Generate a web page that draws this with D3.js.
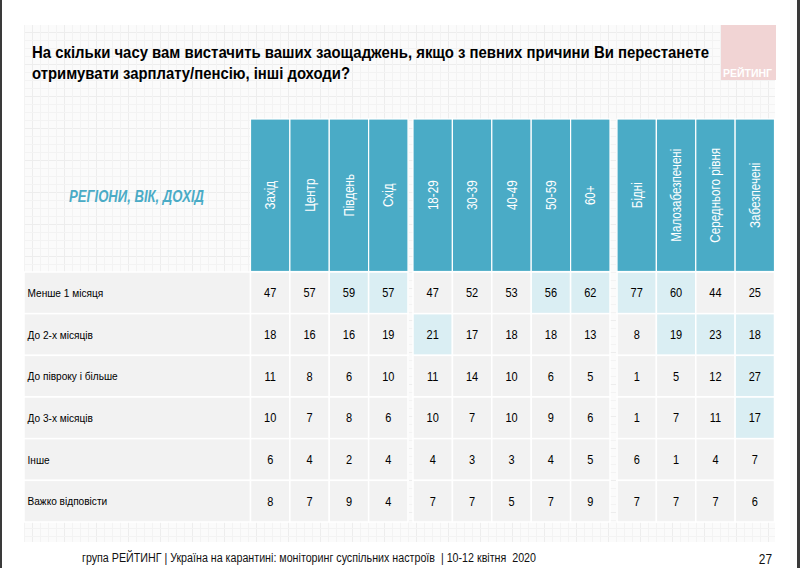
<!DOCTYPE html>
<html><head><meta charset="utf-8">
<script src="https://cdn.jsdelivr.net/npm/d3@7"></script>
<style>
html,body{margin:0;padding:0;background:#fff;}
svg{display:block;}
</style></head>
<body>
<svg id="chart" width="800" height="568"></svg>
<script>
// ---- data ----
const title = ["На скільки часу вам вистачить ваших заощаджень, якщо з певних причини Ви перестанете",
               "отримувати зарплату/пенсію, інші доходи?"];
const cornerLabel = "РЕГІОНИ, ВІК, ДОХІД";
const rowLabels = ["Менше 1 місяця","До 2-х місяців","До півроку і більше","До 3-х місяців","Інше","Важко відповісти"];
const regions = ["Захід","Центр","Південь","Схід"];
const ages = ["18-29","30-39","40-49","50-59","60+"];
const incomes = ["Бідні","Малозабезпечені","Середнього рівня","Забезпечені"];
// values per column, in rowLabels order
const valZakhid   = [47,18,11,10,6,8];
const valTsentr   = [57,16,8,7,4,7];
const valPivden   = [59,16,6,8,2,9];
const valSkhid    = [57,19,10,6,4,4];
const val1829     = [47,21,11,10,4,7];
const val3039     = [52,17,14,7,3,7];
const val4049     = [53,18,10,10,3,5];
const val5059     = [56,18,6,9,4,7];
const val60       = [62,13,5,6,5,9];
const valBidni    = [77,8,1,1,6,7];
const valMalo     = [60,19,5,7,1,7];
const valSeredn   = [44,23,12,11,4,7];
const valZabezp   = [25,18,27,17,7,6];
// highlighted cells: [row, column name]
const highlighted = [
  [0,"Південь"],[0,"Схід"],[0,"50-59"],[0,"60+"],[0,"Бідні"],[0,"Малозабезпечені"],
  [1,"18-29"],[1,"Малозабезпечені"],[1,"Середнього рівня"],[1,"Забезпечені"],
  [2,"Забезпечені"],[3,"Забезпечені"]
];
const footerText = "група РЕЙТИНГ | Україна на карантині: моніторинг суспільних настроїв  | 10-12 квітня  2020";
const pageNumber = "27";
const logoText = "РЕЙТИНГ";

const columnValues = {
  "Захід":valZakhid,"Центр":valTsentr,"Південь":valPivden,"Схід":valSkhid,
  "18-29":val1829,"30-39":val3039,"40-49":val4049,"50-59":val5059,"60+":val60,
  "Бідні":valBidni,"Малозабезпечені":valMalo,"Середнього рівня":valSeredn,"Забезпечені":valZabezp
};

// ---- drawing ----
const svg = d3.select("#chart");
const FONT = "'Liberation Sans',Arial,sans-serif";
const HEAD = "#4aabc6", CELL = "#f2f2f2", HI = "#daeef3";

// grid texture background
const defs = svg.append("defs");
const pat = defs.append("pattern").attr("id","grid").attr("patternUnits","userSpaceOnUse")
  .attr("width",32).attr("height",32);
pat.append("rect").attr("width",32).attr("height",32).attr("fill","#fbfbfb");
[0,8,16,24].forEach(p=>{
  pat.append("line").attr("x1",p+0.5).attr("x2",p+0.5).attr("y1",0).attr("y2",32)
    .attr("stroke", p===0?"#ededed":"#f3f3f3").attr("stroke-width",1);
  pat.append("line").attr("y1",p+0.5).attr("y2",p+0.5).attr("x1",0).attr("x2",32)
    .attr("stroke", p===0?"#ededed":"#f3f3f3").attr("stroke-width",1);
});
svg.append("rect").attr("x",24).attr("y",25).attr("width",751).attr("height",517).attr("fill","url(#grid)");

// page borders
svg.append("rect").attr("x",0).attr("y",0).attr("width",2).attr("height",568).attr("fill","#3a3a3a");
svg.append("rect").attr("x",797).attr("y",0).attr("width",3).attr("height",568).attr("fill","#3a3a3a");

// logo box
svg.append("rect").attr("x",721).attr("y",25).attr("width",55).attr("height",55).attr("fill","#f1d4d4");
svg.append("text").attr("x",723).attr("y",77)
  .attr("font-family",FONT).attr("font-weight","bold").attr("font-size",11.5)
  .attr("textLength",49).attr("lengthAdjust","spacingAndGlyphs")
  .attr("fill","#fff").text(logoText);

// title
svg.append("g").selectAll("text").data(title).join("text")
  .attr("x",32).attr("y",(d,i)=>58+i*21)
  .attr("font-family",FONT).attr("font-weight","bold").attr("font-size",16)
  .attr("textLength",(d,i)=>i===0?677:318).attr("lengthAdjust","spacingAndGlyphs")
  .attr("fill","#000").text(d=>d);

// scales
const groups = [
  {cols:regions, range:[250.5,408]},
  {cols:ages, range:[413,610]},
  {cols:incomes, range:[617,774.5]}
];
const xScales = groups.map(g=>d3.scaleBand().domain(g.cols).range(g.range).paddingInner(0));
const xOf = c => { for(const s of xScales){ if(s.domain().includes(c)) return s; } };
const allCols = groups.flatMap(g=>g.cols);
const y = d3.scaleBand().domain(rowLabels).range([272,522]);
const headerTop = 119, headerBottom = 271.5;

// corner label
svg.append("text").attr("x",69).attr("y",202)
  .attr("font-family",FONT).attr("font-weight","bold").attr("font-style","italic")
  .attr("font-size",16).attr("textLength",135).attr("lengthAdjust","spacingAndGlyphs")
  .attr("fill",HEAD).text(cornerLabel);

// header cells
const hdr = svg.append("g");
hdr.selectAll("rect").data(allCols).join("rect")
  .attr("x",c=>xOf(c)(c)).attr("y",headerTop)
  .attr("width",c=>xOf(c).bandwidth()).attr("height",headerBottom-headerTop)
  .attr("fill",HEAD).attr("stroke","#fff").attr("stroke-width",1.2);
hdr.selectAll("text").data(allCols).join("text")
  .attr("transform",c=>`translate(${xOf(c)(c)+xOf(c).bandwidth()/2+5},${(headerTop+headerBottom)/2}) rotate(-90) scale(0.83,1)`)
  .attr("text-anchor","middle")
  .attr("font-family",FONT).attr("font-size",14).attr("fill","#fff").text(c=>c);

// row label cells
const rows = svg.append("g");
rows.selectAll("rect").data(rowLabels).join("rect")
  .attr("x",24).attr("y",d=>y(d)).attr("width",226.5).attr("height",y.bandwidth())
  .attr("fill",CELL).attr("stroke","#fff").attr("stroke-width",1.5);
rows.selectAll("text").data(rowLabels).join("text")
  .attr("transform",d=>`translate(27.5,${y(d)+y.bandwidth()/2+4}) scale(0.88,1)`)
  .attr("font-family",FONT).attr("font-size",11.5).attr("fill","#000").text(d=>d);

// data cells
const hiSet = new Set(highlighted.map(h=>h[0]+"|"+h[1]));
const cells = [];
allCols.forEach(c=>columnValues[c].forEach((v,i)=>cells.push({col:c,row:i,v})));
const cg = svg.append("g");
cg.selectAll("rect").data(cells).join("rect")
  .attr("x",d=>xOf(d.col)(d.col)).attr("y",d=>y(rowLabels[d.row]))
  .attr("width",d=>xOf(d.col).bandwidth()).attr("height",y.bandwidth())
  .attr("fill",d=>hiSet.has(d.row+"|"+d.col)?HI:CELL)
  .attr("stroke","#fff").attr("stroke-width",1.5);
cg.selectAll("text").data(cells).join("text")
  .attr("transform",d=>`translate(${xOf(d.col)(d.col)+xOf(d.col).bandwidth()/2},${y(rowLabels[d.row])+y.bandwidth()/2+4.5}) scale(0.88,1)`)
  .attr("text-anchor","middle")
  .attr("font-family",FONT).attr("font-size",12.5).attr("fill","#000").text(d=>d.v);

// footer
svg.append("text").attr("x",82).attr("y",562)
  .attr("font-family",FONT).attr("font-size",12.5).attr("fill","#111")
  .attr("textLength",454).attr("lengthAdjust","spacingAndGlyphs")
  .attr("xml:space","preserve").style("white-space","pre").text(footerText);
svg.append("text").attr("transform","translate(772,564) scale(0.85,1)").attr("text-anchor","end")
  .attr("font-family",FONT).attr("font-size",14).attr("fill","#111").text(pageNumber);
</script>
</body></html>
